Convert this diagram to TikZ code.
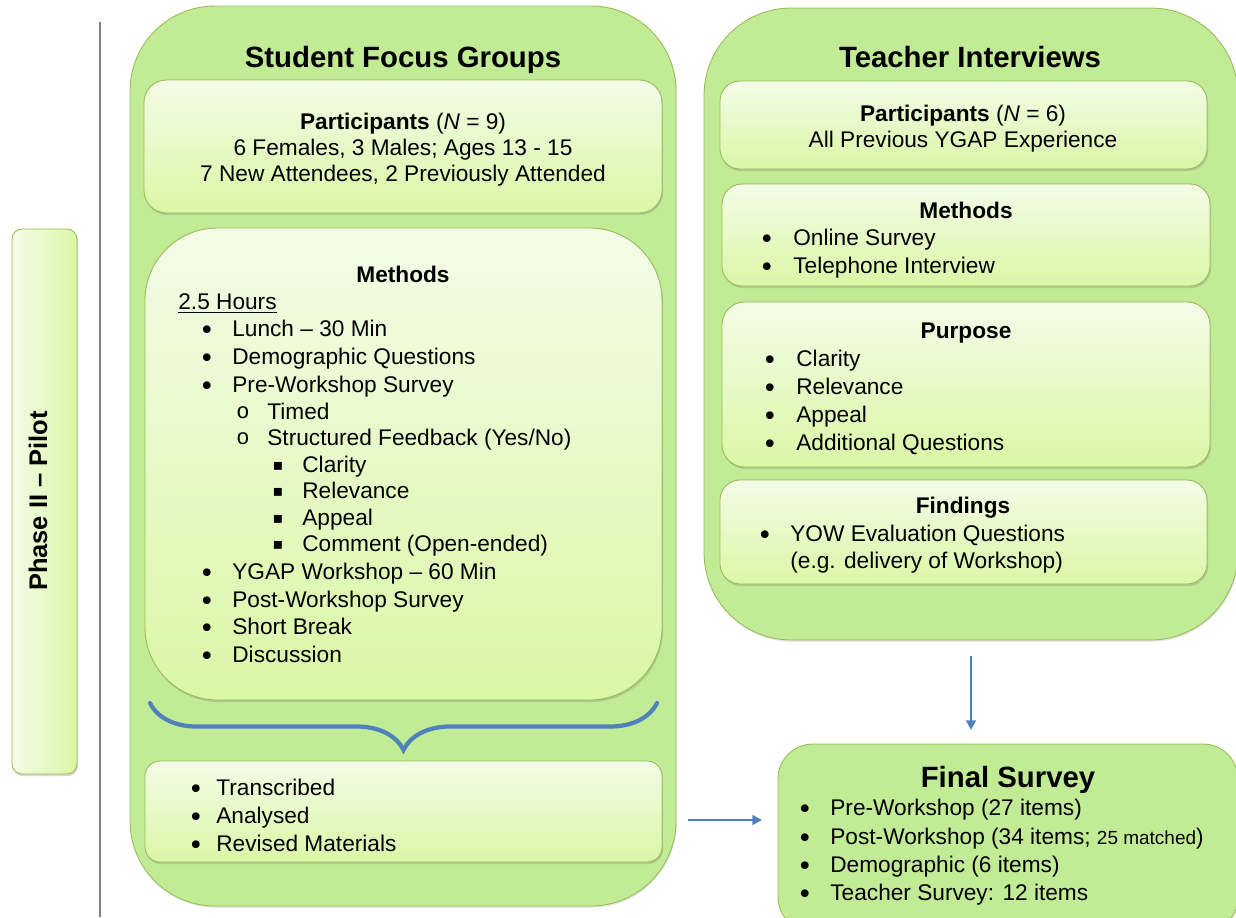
\documentclass[tikz,border=0pt]{standalone}
\usepackage{fontspec}
\setmainfont{Liberation Sans}
\newfontfamily\dejavu{DejaVu Sans}
\newfontfamily\courier{Liberation Mono}
\usetikzlibrary{fit,shadows,arrows.meta,decorations.pathreplacing}

\definecolor{outergreen}{RGB}{194,235,150}
\definecolor{edgegreen}{RGB}{155,187,89}
\definecolor{paneltop}{RGB}{243,252,231}
\definecolor{panelbot}{RGB}{218,247,166}
\definecolor{arrowblue}{RGB}{79,129,189}

\newcommand{\bodysize}{\fontsize{12.9}{15.5}\selectfont}
\newcommand{\titlesize}{\fontsize{16.7}{20}\selectfont}

\tikzset{
	outerbox/.style={draw=edgegreen, fill=outergreen, line width=0.5pt, inner sep=0pt, outer sep=0pt,
		drop shadow={opacity=0.2, shadow xshift=0.4pt, shadow yshift=-1pt}},
	panelbox/.style={draw=edgegreen, top color=paneltop, bottom color=panelbot, line width=0.5pt, inner sep=0pt, outer sep=0pt,
		drop shadow={opacity=0.3, shadow xshift=0.6pt, shadow yshift=-1.2pt}},
	phasebox/.style={draw=edgegreen, left color=paneltop, right color=panelbot, line width=0.5pt, inner sep=0pt, outer sep=0pt,
		drop shadow={opacity=0.3, shadow xshift=0.6pt, shadow yshift=-1.2pt}},
	boxtitle/.style={font=\titlesize\bfseries, anchor=mid, inner sep=0pt, yshift=-0.12cm},
	boxhead/.style={font=\bodysize\bfseries, anchor=mid, inner sep=0pt, yshift=-0.08cm},
	textline/.style={font=\bodysize, anchor=mid, inner sep=0pt, yshift=-0.08cm},
	item/.style={font=\bodysize, anchor=mid west, inner sep=0pt, yshift=-0.08cm},
	bulletmark/.style={font=\fontsize{15}{17}\selectfont\dejavu, anchor=center, inner sep=0pt, yshift=-0.1cm},
	submark/.style={bulletmark, yshift=0.06cm},
	flow/.style={arrowblue, line width=1.6pt, -{Triangle[length=5.5pt,width=5.5pt]}},
}

\begin{document}
\begin{tikzpicture}[x=0.02cm, y=-0.02cm]
	\useasboundingbox (0,0) rectangle (1236,917);
	\clip (0,0) rectangle (1236,917);

	% phase label and divider
	\node[phasebox, rounded corners=0.2cm, fit={(12,229) (77,774)}] (phase) {};
	\node[font=\fontsize{14.5}{17}\selectfont\bfseries, rotate=90] (phasetext) at (38,501) {Phase II -- Pilot};
	\draw[black!50, line width=0.85pt] (100,22) -- (100,917);

	% student focus groups
	\node[outerbox, rounded corners=1.7cm, fit={(130,6) (676,906)}] (sfg) {};
	\node[boxtitle] (sfgtitle) at (403,57) {Student Focus Groups};

	\node[panelbox, rounded corners=0.45cm, fit={(144,80) (662,213)}] (sp) {};
	\node[textline] (sp1) at (403,121) {\textbf{Participants} (\textit{N} = 9)};
	\node[textline] (sp2) at (403,147) {6 Females, 3 Males; Ages 13 - 15};
	\node[textline] (sp3) at (403,173) {7 New Attendees, 2 Previously Attended};

	\node[panelbox, rounded corners=1.45cm, fit={(145,228) (662,700)}] (sm) {};
	\node[boxhead] (smhead) at (403,274) {Methods};
	\node[item] (smhours) at (178,301) {\underline{2.5 Hours}};
	\foreach \y/\t in {328/Lunch -- 30 Min, 356/Demographic Questions, 384/Pre-Workshop Survey,
		571/YGAP Workshop -- 60 Min, 599/Post-Workshop Survey, 626/Short Break, 654/Discussion}{
		\node[bulletmark] (smb\y) at (207,\y) {•};
		\node[item] (sm\y) at (232,\y) {\t};
	}
	\node[submark] (sob1) at (243,411) {\fontsize{12.5}{14}\selectfont\courier o};
	\node[item] (so1) at (267,411) {Timed};
	\node[submark] (sob2) at (243,437) {\fontsize{12.5}{14}\selectfont\courier o};
	\node[item] (so2) at (267,437) {Structured Feedback (Yes/No)};
	\foreach \y/\t in {464/Clarity, 490/Relevance, 517/Appeal, 543/Comment (Open-ended)}{
		\node[submark] (sqb\y) at (278,\y) {\fontsize{9}{11}\selectfont ▪};
		\node[item] (sq\y) at (302,\y) {\t};
	}

	\coordinate (bl) at (150,703);
	\coordinate (br) at (657,703);
	\draw[arrowblue, line width=2.4pt, line cap=round, decorate,
		decoration={brace, mirror, amplitude=0.94cm}] (bl) -- (br);

	\node[panelbox, rounded corners=0.3cm, fit={(145,761) (662,862)}] (sr) {};
	\foreach \y/\t in {787/Transcribed, 815/Analysed, 843/Revised Materials}{
		\node[bulletmark] (srb\y) at (196,\y) {•};
		\node[item] (sr\y) at (216,\y) {\t};
	}

	% teacher interviews
	\node[outerbox, rounded corners=1.75cm, fit={(704,8) (1238,640)}] (ti) {};
	\node[boxtitle] (tititle) at (970,57) {Teacher Interviews};

	\node[panelbox, rounded corners=0.4cm, fit={(720,81) (1207,169)}] (tp) {};
	\node[textline] (tp1) at (963,113) {\textbf{Participants} (\textit{N} = 6)};
	\node[textline] (tp2) at (963,139) {All Previous YGAP Experience};

	\node[panelbox, rounded corners=0.4cm, fit={(722,184) (1210,286)}] (tm) {};
	\node[boxhead] (tmhead) at (966,210) {Methods};
	\foreach \y/\t in {237/Online Survey, 265/Telephone Interview}{
		\node[bulletmark] (tmb\y) at (767,\y) {•};
		\node[item] (tm\y) at (793,\y) {\t};
	}

	\node[panelbox, rounded corners=0.45cm, fit={(722,302) (1210,467)}] (tu) {};
	\node[boxhead] (tuhead) at (966,330) {Purpose};
	\foreach \y/\t in {358/Clarity, 386/Relevance, 414/Appeal, 442/Additional Questions}{
		\node[bulletmark] (tub\y) at (770,\y) {•};
		\node[item] (tu\y) at (796,\y) {\t};
	}

	\node[panelbox, rounded corners=0.4cm, fit={(720,480) (1207,584)}] (tf) {};
	\node[boxhead] (tfhead) at (963,505) {Findings};
	\node[bulletmark] (tfb) at (765,533) {•};
	\node[item] (tf1) at (790,533) {YOW Evaluation Questions};
	\node[item] (tf2) at (790,560) {(e.g. delivery of Workshop)};

	% final survey
	\node[outerbox, rounded corners=0.7cm, fit={(778,744) (1238,932)}] (fs) {};
	\node[boxtitle] (fstitle) at (1008,777) {Final Survey};
	\foreach \y/\t in {807/Pre-Workshop (27 items), 864/Demographic (6 items), 892/Teacher Survey: 12 items}{
		\node[bulletmark] (fsb\y) at (805,\y) {•};
		\node[item] (fs\y) at (830,\y) {\t};
	}
	\node[bulletmark] (fsb836) at (805,836) {•};
	\node[item] (fs836) at (830,836) {Post-Workshop (34 items; {\fontsize{10.8}{13}\selectfont 25 matched})};

	% arrows
	\coordinate (sfgout) at (688,820);
	\draw[flow, shorten >=0.32cm] (sfgout) -- (sfgout -| fs.west);
	\draw[flow, shorten <=0.32cm, shorten >=0.28cm] (ti.south) -- (ti.south |- fs.north);
\end{tikzpicture}
\end{document}
